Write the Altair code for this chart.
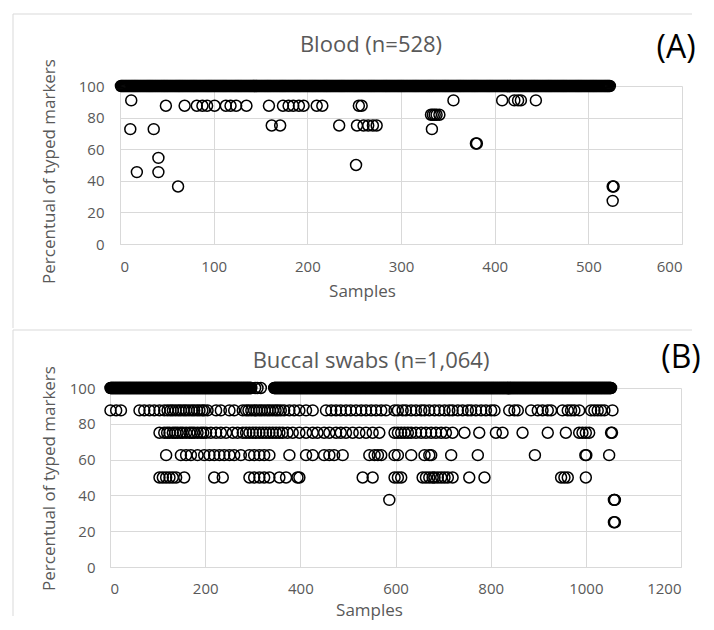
import altair as alt
import pandas as pd

# ---------------- Panel A : Blood ----------------
A_title = "Blood (n=528)"
A_tag = "(A)"
A_band = [(1, 523)]          # samples typed at 100 %
A_band_extra = []
A_rows = {
    90.9: [12, 356, 408, 421, 425, 428, 444],
    87.5: [49, 69, 82, 88, 93, 101, 113, 118, 124, 135, 159, 174, 180, 185,
           191, 196, 210, 216, 255, 258],
    81.8: [332, 334, 336, 338, 341],
    75.0: [162, 171, 234, 253, 260, 265, 270, 274],
    72.7: [11, 36, 333],
    63.6: [380, 381],
    54.5: [41],
    50.0: [252],
    45.5: [18, 41],
    36.4: [62, 526, 527],
    27.3: [526],
}

# ---------------- Panel B : Buccal swabs ----------------
B_title = "Buccal swabs (n=1,064)"
B_tag = "(B)"
B_band = [(1, 297), (345, 1053)]
B_band_extra = [305, 310, 317]
B_rows = {
    87.5: [1, 13, 23, 62, 72, 83, 93, 104, 114, 121, 127, 132, 138, 144, 149, 155,
           160, 166, 172, 177, 183, 188, 194, 198, 205, 223, 233, 251, 261, 279,
           286, 291, 297, 303, 308, 314, 319, 325, 331, 336, 342, 348, 353, 359,
           366, 377, 387, 398, 412, 426, 454, 465, 475, 485, 496, 506, 517, 528,
           538, 549, 559, 570, 580, 598, 605, 615, 622, 633, 643, 654, 661, 671,
           682, 692, 703, 713, 720, 731, 741, 752, 759, 769, 780, 790, 801, 808,
           839, 850, 857, 885, 899, 909, 920, 927, 951, 962, 969, 976, 986, 1011,
           1018, 1025, 1032, 1039, 1056],
    75.0: [104, 114, 120, 125, 132, 137, 142, 148, 153, 160, 167, 172, 177, 184,
           191, 196, 202, 212, 223, 233, 244, 258, 268, 279, 286, 293, 300, 307,
           314, 321, 328, 335, 342, 349, 356, 363, 373, 384, 398, 412, 426, 436,
           450, 461, 475, 485, 496, 510, 524, 538, 552, 566, 598, 605, 612, 619,
           626, 633, 643, 654, 664, 675, 685, 696, 706, 720, 745, 776, 811, 825,
           867, 920, 958, 986, 993, 1000, 1007, 1053, 1055],
    62.5: [118, 149, 160, 170, 184, 198, 209, 219, 230, 240, 251, 261, 275, 293,
           303, 314, 324, 335, 377, 412, 426, 450, 461, 471, 489, 545, 556, 563,
           570, 598, 605, 633, 661, 671, 675, 717, 773, 893, 999, 1001, 1049],
    50.0: [104, 111, 118, 125, 132, 139, 156, 219, 237, 293, 303, 314, 324, 335,
           356, 370, 394, 398, 531, 552, 598, 605, 612, 657, 664, 671, 678, 682,
           689, 696, 703, 710, 720, 755, 787, 948, 955, 962, 1000],
    37.5: [587, 1059, 1060, 1061],
    25.0: [1059, 1061],
}

Y_TICKS = [0, 20, 40, 60, 80, 100]
A_X_TICKS = [0, 100, 200, 300, 400, 500, 600]
B_X_TICKS = [0, 200, 400, 600, 800, 1000, 1200]

FONT = "Open Sans"
TXT = "#595959"
GRID = "#d9d9d9"


def make_df(band, extra, rows):
    xs, ys = [], []
    for lo, hi in band:
        for s in range(lo, hi + 1):
            xs.append(s)
            ys.append(100)
    for s in extra:
        xs.append(s)
        ys.append(100)
    for val, samples in rows.items():
        for s in samples:
            xs.append(s)
            ys.append(val)
    return pd.DataFrame({"sample": xs, "pct": ys})


def panel(df, title, tag, xticks, w, h, geo):
    xax = alt.Axis(values=xticks, format="d", title="Samples", labelPadding=geo["xlp"],
                   titlePadding=geo["xtp"], titleX=geo["xtx"])
    yax = alt.Axis(values=Y_TICKS, format="d", title="Percentual of typed markers",
                   labelPadding=geo["ylp"], titlePadding=geo["ytp"], titleY=geo["yty"],
                   offset=geo["yoff"])
    pts = alt.Chart(df).mark_point(
        shape="circle", filled=False, color="#000000", strokeWidth=1.5,
        size=120, opacity=1
    ).encode(
        x=alt.X("sample:Q",
                scale=alt.Scale(domain=[xticks[0], xticks[-1]], nice=False,
                                range=geo["xrange"]),
                axis=xax),
        y=alt.Y("pct:Q", scale=alt.Scale(domain=[0, 100], nice=False), axis=yax),
    )
    ttl = alt.Chart(pd.DataFrame({"t": [title]})).mark_text(
        font=FONT, fontSize=22, color=TXT, align="center", baseline="alphabetic"
    ).encode(text="t:N", x=alt.value(geo["tx"]), y=alt.value(geo["ty"]))
    tg = alt.Chart(pd.DataFrame({"t": [tag]})).mark_text(
        font=FONT, fontSize=32, color="#000000", align="center", baseline="alphabetic"
    ).encode(text="t:N", x=alt.value(geo["gx"]), y=alt.value(geo["gy"]))
    top = alt.Chart(pd.DataFrame({"k": ["top"]})).mark_rule(color=GRID, strokeWidth=1).encode(
        x=alt.value(geo["bl"]), x2=alt.value(geo["br"]),
        y=alt.value(geo["bt"]), y2=alt.value(geo["bt"]))
    left = alt.Chart(pd.DataFrame({"k": ["left"]})).mark_rule(color=GRID, strokeWidth=1).encode(
        x=alt.value(geo["bl"]), x2=alt.value(geo["bl"]),
        y=alt.value(geo["bt"]), y2=alt.value(geo["bb"]))
    return alt.layer(pts, ttl, tg, top, left).properties(width=w, height=h)


# both plot groups share the origin at page x=119; panel B's x scale starts 10px left of it
geoA = dict(xlp=15, xtp=9, xtx=242, ylp=16, ytp=20, yty=85, yoff=0, xrange=[0, 562],
            tx=251, ty=-34, gx=556, gy=-28, bl=-107, br=572, bt=-72, bb=242)
geoB = dict(xlp=14, xtp=6, xtx=249, ylp=15, ytp=11, yty=90, yoff=10, xrange=[-10, 561],
            tx=251, ty=-20, gx=561, gy=-20, bl=-107, br=572, bt=-58, bb=228)

chartA = panel(make_df(A_band, A_band_extra, A_rows), A_title, A_tag, A_X_TICKS, 562, 158, geoA)
chartB = panel(make_df(B_band, B_band_extra, B_rows), B_title, B_tag, B_X_TICKS, 561, 179, geoB)

chart = alt.vconcat(chartA, chartB, spacing=0).properties(
    padding={"left": 4, "top": 5, "right": 0, "bottom": 3}
).configure_view(stroke=None).configure_axis(
    grid=True, gridColor=GRID, gridWidth=1, domainColor=GRID, domainWidth=1,
    ticks=False, labelFont=FONT, labelFontSize=15, labelColor=TXT,
    titleFont=FONT, titleFontSize=17, titleFontWeight="normal", titleColor=TXT,
)

chart.save("out.html", embed_options={"renderer": "svg", "actions": False})
